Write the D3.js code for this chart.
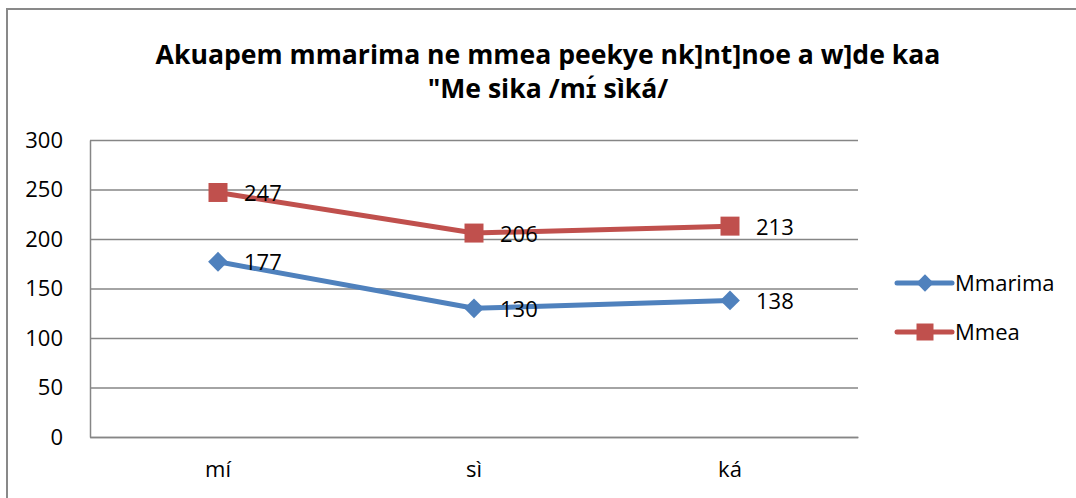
<!DOCTYPE html>
<html>
<head>
<meta charset="utf-8">
<script src="https://cdn.jsdelivr.net/npm/d3@7"></script>
<style>
  body { margin: 0; background: #fff; }
  svg text { font-family: "Open Sans", sans-serif; fill: #000; }
</style>
</head>
<body>
<svg id="chart" width="1076" height="498"></svg>
<script>
let categories = ['mí', 'sì', 'ká'];
let mmarima = [177, 130, 138];
let mmea = [247, 206, 213];
let yTicks = [0, 50, 100, 150, 200, 250, 300];
let seriesNames = ['Mmarima', 'Mmea'];
let titleLines = ['Akuapem mmarima ne mmea peekye nk]nt]noe a w]de kaa', '"Me sika /mɪ́ sìká/'];

let margin = {top: 140, left: 90};
let width = 768, height = 297;

let svg = d3.select('#chart');

// outer chart frame (runs off the right/bottom of the picture)
svg.append('rect')
  .attr('x', 7).attr('y', 9)
  .attr('width', 1100).attr('height', 520)
  .attr('fill', '#fff')
  .attr('stroke', '#898989')
  .attr('stroke-width', 2);

// title
let title = svg.append('g').attr('class', 'title');
title.selectAll('text')
  .data(titleLines)
  .enter().append('text')
    .attr('x', 548)
    .attr('y', (d, i) => 55 + i * 34)
    .attr('dy', '0.35em')
    .attr('text-anchor', 'middle')
    .style('font-weight', 'bold')
    .style('font-size', '22px')
    .text(d => d);
// fit first line to about 785px like the original
let w0 = title.select('text').node().getComputedTextLength();
let fs = 22 * 785 / w0;
title.selectAll('text').style('font-size', fs + 'px');

let sx = d3.scaleBand().domain(categories).range([0, width]);
let sy = d3.scaleLinear().domain([0, 300]).range([height, 0]);

let g = svg.append('g')
  .attr('transform', `translate(${margin.left},${margin.top})`);

// grid
g.append('g')
  .attr('class', 'grid')
  .call(d3.axisLeft(sy).tickValues(yTicks).tickSize(-width).tickFormat(''))
  .call(a => a.select('.domain').remove())
  .selectAll('line')
    .attr('stroke', '#868686')
    .attr('stroke-width', 1.5);

// y axis
let yAxis = g.append('g')
  .call(d3.axisLeft(sy).tickValues(yTicks).tickSize(0).tickPadding(27));
yAxis.select('.domain').attr('stroke', '#868686').attr('stroke-width', 1.5);
yAxis.selectAll('text').style('font-size', '22px').attr('fill', '#000');

// x axis
let xAxis = g.append('g')
  .attr('transform', `translate(0,${height})`)
  .call(d3.axisBottom(sx).tickSize(0).tickPadding(24));
xAxis.select('.domain').attr('stroke', '#868686').attr('stroke-width', 1.5);
xAxis.selectAll('text').style('font-size', '22px').attr('fill', '#000');

// diamond = square turned 45deg
let series = [
  {name: seriesNames[0], values: mmarima, color: '#4F81BD', rot: 45, size: 196, lsize: 150},
  {name: seriesNames[1], values: mmea, color: '#C0504D', rot: 0, size: 361, lsize: 289}
];

let cx = d => sx(d) + sx.bandwidth() / 2;
let line = d3.line()
  .x((v, i) => cx(categories[i]))
  .y(v => sy(v));

series.forEach(s => {
  let sg = g.append('g').attr('class', 'series');
  sg.append('path')
    .datum(s.values)
    .attr('d', line)
    .attr('fill', 'none')
    .attr('stroke', s.color)
    .attr('stroke-width', 5)
    .attr('stroke-linejoin', 'round')
    .attr('stroke-linecap', 'round');
  sg.selectAll('.mark')
    .data(s.values)
    .enter().append('path')
      .attr('class', 'mark')
      .attr('transform', (v, i) => `translate(${cx(categories[i])},${sy(v)}) rotate(${s.rot})`)
      .attr('d', d3.symbol().type(d3.symbolSquare).size(s.size))
      .attr('fill', s.color);
  sg.selectAll('.lbl')
    .data(s.values)
    .enter().append('text')
      .attr('class', 'lbl')
      .attr('x', (v, i) => cx(categories[i]) + 26)
      .attr('y', v => sy(v) + 1)
      .attr('dy', '0.35em')
      .style('font-size', '22px')
      .text(v => v);
});

// legend
let legend = svg.append('g').attr('transform', 'translate(897,283)');
series.forEach((s, i) => {
  let lg = legend.append('g').attr('transform', `translate(0,${i * 49})`);
  lg.append('line')
    .attr('x1', 0).attr('x2', 55)
    .attr('stroke', s.color)
    .attr('stroke-width', 5)
    .attr('stroke-linecap', 'round');
  lg.append('path')
    .attr('transform', `translate(28,0) rotate(${s.rot})`)
    .attr('d', d3.symbol().type(d3.symbolSquare).size(s.lsize))
    .attr('fill', s.color);
  lg.append('text')
    .attr('x', 58)
    .attr('dy', '0.35em')
    .style('font-size', '22px')
    .text(s.name);
});
</script>
</body>
</html>
